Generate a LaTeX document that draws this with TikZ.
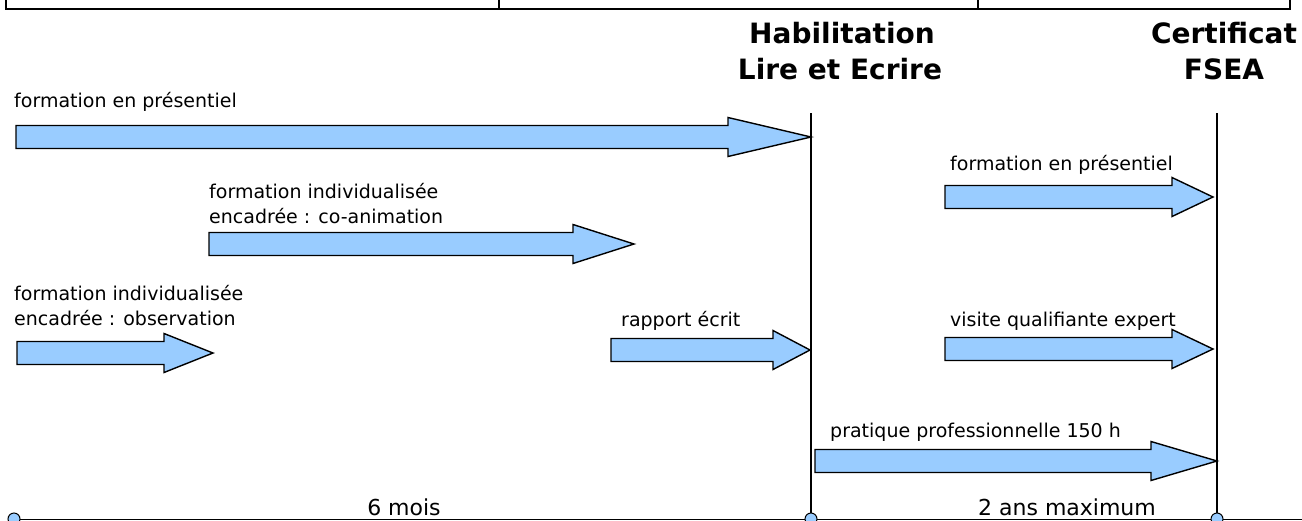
\documentclass[tikz,border=0pt]{standalone}
\usepackage{fontspec}
\setmainfont{DejaVu Sans}
\usetikzlibrary{positioning}
\definecolor{arrowfill}{RGB}{153,204,255}
\tikzset{
  barrow/.style={draw=black,line width=1.4pt,fill=arrowfill,line join=miter},
  lbl/.style={anchor=base west,inner sep=0pt,font=\fontsize{19}{23}\selectfont},
  ttl/.style={anchor=base,inner sep=0pt,font=\fontsize{28}{32}\selectfont\bfseries},
  span/.style={anchor=base,inner sep=0pt,font=\fontsize{22}{26}\selectfont},
  dot/.style={circle,draw=black,line width=1pt,fill=arrowfill,minimum size=12pt,inner sep=0pt},
  rule/.style={line width=1.3pt}
}
\begin{document}
\begin{tikzpicture}[x=1pt,y=-1pt]
  \useasboundingbox (0,0) rectangle (1302,520);

  % table border at the top
  \coordinate (t0) at (6,0);   \coordinate (t1) at (499,0);
  \coordinate (t2) at (978,0); \coordinate (t3) at (1290,0);
  \draw[rule] (t0) -- (6,9) -- (1290,9) -- (t3);
  \draw[rule] (t1) -- (499,9);
  \draw[rule] (t2) -- (978,9);

  % milestones
  \node[ttl] (hab1) at (842,43) {Habilitation};
  \node[ttl] (hab2) at (840,79) {Lire et Ecrire};
  \node[ttl] (cert1) at (1224,43) {Certificat};
  \node[ttl] (cert2) at (1224,79) {FSEA};

  % time axis
  \coordinate (a0) at (14,519);
  \coordinate (a1) at (811,519);
  \coordinate (a2) at (1217,519);
  \coordinate (aend) at (1302,519);
  \coordinate (hab) at (811,113);
  \coordinate (cert) at (1217,113);
  \draw[rule] (hab) -- (a1);
  \draw[rule] (cert) -- (a2);
  \draw[line width=1pt] (a0) -- (aend);
  \foreach \p in {a0,a1,a2}
    \node[dot] (dot-\p) at (\p) {};

  % block arrows: start / tip / head start / centre
  \foreach \xa/\xb/\xh/\ym in {
    16/811/728/137,
    209/634/573/244,
    17/213/164/353,
    611/810/773/350,
    945/1213/1172/197,
    945/1213/1172/349,
    815/1217/1151/461
  }{
    \draw[barrow] (\xa,\ym-11.5) -- (\xh,\ym-11.5) -- (\xh,\ym-19.5) -- (\xb,\ym)
      -- (\xh,\ym+19.5) -- (\xh,\ym+11.5) -- (\xa,\ym+11.5) -- cycle;
  }

  % labels
  \node[lbl] (pres1) at (14,107) {formation en présentiel};
  \node[lbl] (coan1) at (209,198) {formation individualisée};
  \node[lbl] (coan2) at (209,223) {encadrée : co-animation};
  \node[lbl] (obs1) at (14,300) {formation individualisée};
  \node[lbl] (obs2) at (14,325) {encadrée : observation};
  \node[lbl] (rapp) at (621,326) {rapport écrit};
  \node[lbl] (pres2) at (950,170) {formation en présentiel};
  \node[lbl] (visite) at (950,326) {visite qualifiante expert};
  \node[lbl] (prat) at (830,437) {pratique professionnelle 150 h};

  \node[span] (six) at (404,515) {6 mois};
  \node[span] (deux) at (1067,515) {2 ans maximum};
\end{tikzpicture}
\end{document}
